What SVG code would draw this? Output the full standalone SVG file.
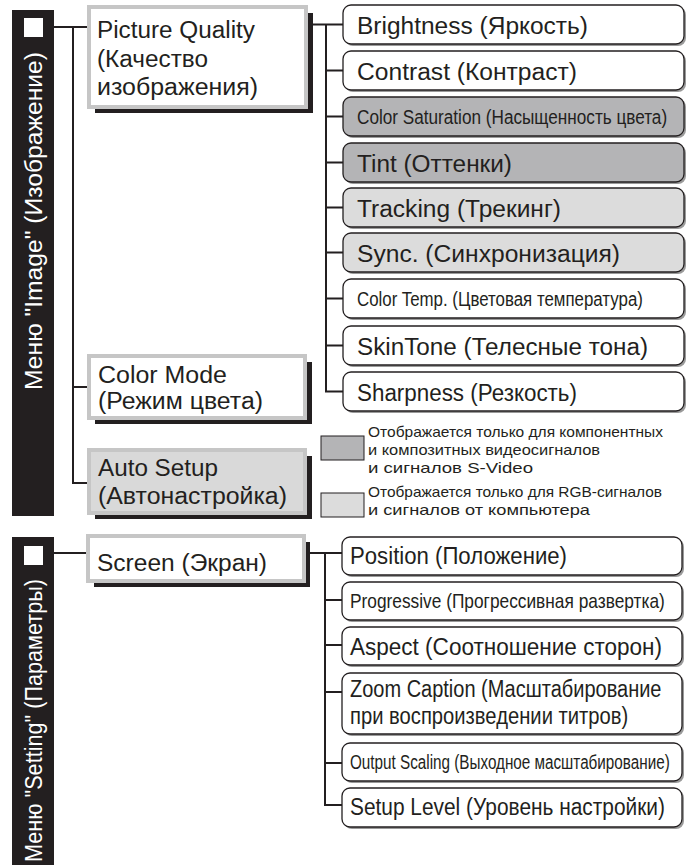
<svg xmlns="http://www.w3.org/2000/svg" width="693" height="865" viewBox="0 0 693 865">
<style>
text{font-family:"Liberation Sans",Arial,sans-serif;fill:#231f20}
.bar{fill:#231f20}
.sq{fill:#fff}
.vt{fill:#fff;font-size:23px}
.pshadow{fill:#231f20}
.pbox{fill:#fff;stroke:#c6c6c6;stroke-width:4}
.pbox.lg{fill:#d9d9d9}
.pt{font-size:23px}
.cshadow{fill:#9a9a9a}
.cbox{fill:#fff;stroke:#231f20;stroke-width:1.3}
.cbox.dg{fill:#b4b4b6}
.cbox.lg{fill:#dcdcdc}
.ct{font-size:23px}
.cn{font-size:21px}
.lt{font-size:15px}
.sw{stroke:#231f20;stroke-width:1}
.conn{fill:none;stroke:#231f20;stroke-width:2}
</style>

<g id="menu-image">
  <rect class="bar" x="12" y="10" width="42" height="506"/>
  <rect class="sq" x="24" y="18" width="19" height="19"/>
  <text class="vt" transform="translate(42,390) rotate(-90)" textLength="338" lengthAdjust="spacingAndGlyphs">Меню "Image" (Изображение)</text>
</g>

<g id="menu-setting">
  <rect class="bar" x="12" y="537" width="42" height="328"/>
  <rect class="sq" x="24" y="546" width="19" height="19"/>
  <text class="vt" transform="translate(42,862) rotate(-90)" textLength="283" lengthAdjust="spacingAndGlyphs">Меню "Setting" (Параметры)</text>
</g>

<g id="connectors">
  <path class="conn" d="M54 27H88 M73 27V483H88 M73 387H88"/>
  <path class="conn" d="M313 24.5H343 M326 24.5V391.5H343 M326 70.5H343 M326 116.5H343 M326 162.5H343 M326 207.5H343 M326 252.5H343 M326 298.5H343 M326 345.5H343"/>
  <path class="conn" d="M54 553H87 M310 553H342 M325 553V805H342 M325 600H342 M325 645H342 M325 692H342 M325 763H342"/>
</g>

<g id="picture-quality">
  <rect class="pshadow" x="95" y="13" width="218" height="100"/>
  <rect class="pbox" x="89" y="7" width="217" height="100"/>
  <text class="pt" x="97" y="38" textLength="158" lengthAdjust="spacingAndGlyphs">Picture Quality</text>
  <text class="pt" x="97" y="67" textLength="111" lengthAdjust="spacingAndGlyphs">(Качество</text>
  <text class="pt" x="97" y="95" textLength="161" lengthAdjust="spacingAndGlyphs">изображения)</text>
</g>

<g id="color-mode">
  <rect class="pshadow" x="95" y="362" width="217" height="62"/>
  <rect class="pbox" x="89" y="356" width="216" height="62"/>
  <text class="pt" x="98" y="383" textLength="129" lengthAdjust="spacingAndGlyphs">Color Mode</text>
  <text class="pt" x="98" y="409" textLength="165" lengthAdjust="spacingAndGlyphs">(Режим цвета)</text>
</g>

<g id="auto-setup">
  <rect class="pshadow" x="95" y="456" width="217" height="63"/>
  <rect class="pbox lg" x="89" y="450" width="216" height="63"/>
  <text class="pt" x="98" y="476" textLength="120" lengthAdjust="spacingAndGlyphs">Auto Setup</text>
  <text class="pt" x="98" y="504" textLength="189" lengthAdjust="spacingAndGlyphs">(Автонастройка)</text>
</g>

<g id="screen">
  <rect class="pshadow" x="94" y="542" width="216" height="45"/>
  <rect class="pbox" x="88" y="536" width="216" height="45"/>
  <text class="pt" x="97" y="571" textLength="170" lengthAdjust="spacingAndGlyphs">Screen (Экран)</text>
</g>

<g id="brightness">
  <rect class="cshadow" x="345" y="7" width="341" height="39" rx="8"/>
  <rect class="cbox" x="343" y="5" width="341" height="39" rx="8"/>
  <text class="ct" x="357" y="34" textLength="231" lengthAdjust="spacingAndGlyphs">Brightness (Яркость)</text>
</g>
<g id="contrast">
  <rect class="cshadow" x="345" y="53" width="341" height="39" rx="8"/>
  <rect class="cbox" x="343" y="51" width="341" height="39" rx="8"/>
  <text class="ct" x="357" y="80" textLength="220" lengthAdjust="spacingAndGlyphs">Contrast (Контраст)</text>
</g>
<g id="color-saturation">
  <rect class="cshadow" x="345" y="99" width="341" height="39" rx="8"/>
  <rect class="cbox dg" x="343" y="97" width="341" height="39" rx="8"/>
  <text class="cn" transform="translate(357,124) scale(0.814,1)" textLength="381" lengthAdjust="spacingAndGlyphs">Color Saturation (Насыщенность цвета)</text>
</g>
<g id="tint">
  <rect class="cshadow" x="345" y="145" width="341" height="39" rx="8"/>
  <rect class="cbox dg" x="343" y="143" width="341" height="39" rx="8"/>
  <text class="ct" x="357" y="172" textLength="155" lengthAdjust="spacingAndGlyphs">Tint (Оттенки)</text>
</g>
<g id="tracking">
  <rect class="cshadow" x="345" y="190" width="341" height="39" rx="8"/>
  <rect class="cbox lg" x="343" y="188" width="341" height="39" rx="8"/>
  <text class="ct" x="357" y="217" textLength="204" lengthAdjust="spacingAndGlyphs">Tracking (Трекинг)</text>
</g>
<g id="sync">
  <rect class="cshadow" x="345" y="235" width="341" height="39" rx="8"/>
  <rect class="cbox lg" x="343" y="233" width="341" height="39" rx="8"/>
  <text class="ct" x="357" y="262" textLength="263" lengthAdjust="spacingAndGlyphs">Sync. (Синхронизация)</text>
</g>
<g id="color-temp">
  <rect class="cshadow" x="345" y="281" width="341" height="39" rx="8"/>
  <rect class="cbox" x="343" y="279" width="341" height="39" rx="8"/>
  <text class="cn" transform="translate(357,306) scale(0.792,1)" textLength="361" lengthAdjust="spacingAndGlyphs">Color Temp. (Цветовая температура)</text>
</g>
<g id="skintone">
  <rect class="cshadow" x="345" y="328" width="341" height="39" rx="8"/>
  <rect class="cbox" x="343" y="326" width="341" height="39" rx="8"/>
  <text class="ct" x="357" y="355" textLength="291" lengthAdjust="spacingAndGlyphs">SkinTone (Телесные тона)</text>
</g>
<g id="sharpness">
  <rect class="cshadow" x="345" y="374" width="341" height="39" rx="8"/>
  <rect class="cbox" x="343" y="372" width="341" height="39" rx="8"/>
  <text class="ct" x="357" y="401" textLength="220" lengthAdjust="spacingAndGlyphs">Sharpness (Резкость)</text>
</g>

<g id="legend-dark">
  <rect class="sw" x="321" y="436" width="43" height="24" fill="#b4b4b6"/>
  <text class="lt" x="368" y="437" textLength="295" lengthAdjust="spacingAndGlyphs">Отображается только для компонентных</text>
  <text class="lt" x="368" y="455" textLength="232" lengthAdjust="spacingAndGlyphs">и композитных видеосигналов</text>
  <text class="lt" x="368" y="473" textLength="165" lengthAdjust="spacingAndGlyphs">и сигналов S-Video</text>
</g>
<g id="legend-light">
  <rect class="sw" x="321" y="493" width="43" height="24" fill="#dcdcdc"/>
  <text class="lt" x="368" y="497" textLength="294" lengthAdjust="spacingAndGlyphs">Отображается только для RGB-сигналов</text>
  <text class="lt" x="368" y="515" textLength="222" lengthAdjust="spacingAndGlyphs">и сигналов от компьютера</text>
</g>

<g id="position">
  <rect class="cshadow" x="344" y="539" width="340" height="38" rx="8"/>
  <rect class="cbox" x="342" y="537" width="340" height="38" rx="8"/>
  <text class="ct" x="350" y="564" textLength="217" lengthAdjust="spacingAndGlyphs">Position (Положение)</text>
</g>
<g id="progressive">
  <rect class="cshadow" x="344" y="584" width="340" height="38" rx="8"/>
  <rect class="cbox" x="342" y="582" width="340" height="38" rx="8"/>
  <text class="cn" transform="translate(350,608) scale(0.824,1)" textLength="382" lengthAdjust="spacingAndGlyphs">Progressive (Прогрессивная развертка)</text>
</g>
<g id="aspect">
  <rect class="cshadow" x="344" y="629" width="340" height="38" rx="8"/>
  <rect class="cbox" x="342" y="627" width="340" height="38" rx="8"/>
  <text class="ct" x="350" y="655" textLength="312" lengthAdjust="spacingAndGlyphs">Aspect (Соотношение сторон)</text>
</g>
<g id="zoom-caption">
  <rect class="cshadow" x="344" y="675" width="340" height="61" rx="8"/>
  <rect class="cbox" x="342" y="673" width="340" height="61" rx="8"/>
  <text class="ct" transform="translate(350,697) scale(0.87,1)" textLength="358" lengthAdjust="spacingAndGlyphs">Zoom Caption (Масштабирование</text>
  <text class="ct" transform="translate(350,724) scale(0.875,1)" textLength="318" lengthAdjust="spacingAndGlyphs">при воспроизведении титров)</text>
</g>
<g id="output-scaling">
  <rect class="cshadow" x="344" y="745" width="340" height="38" rx="8"/>
  <rect class="cbox" x="342" y="743" width="340" height="38" rx="8"/>
  <text class="cn" transform="translate(350,769) scale(0.725,1)" textLength="441" lengthAdjust="spacingAndGlyphs">Output Scaling (Выходное масштабирование)</text>
</g>
<g id="setup-level">
  <rect class="cshadow" x="344" y="790" width="340" height="39" rx="8"/>
  <rect class="cbox" x="342" y="788" width="340" height="39" rx="8"/>
  <text class="ct" transform="translate(350,815) scale(0.905,1)" textLength="348" lengthAdjust="spacingAndGlyphs">Setup Level (Уровень настройки)</text>
</g>
</svg>
